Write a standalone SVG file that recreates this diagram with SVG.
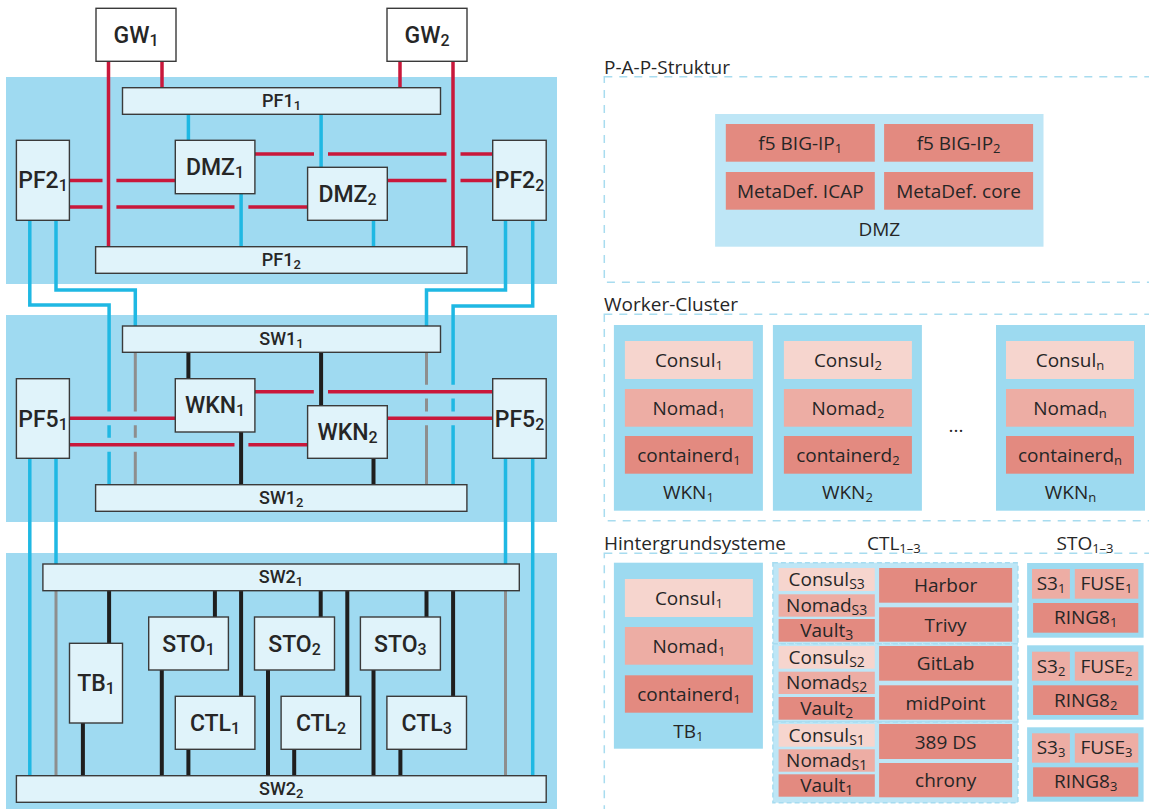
<svg xmlns="http://www.w3.org/2000/svg" width="1149" height="809" viewBox="0 0 1149 809">
<style>
.bg{fill:#fff}
.band{fill:#9fdaf1}
.node{fill:#e0f3fa;stroke:#3a3a3a;stroke-width:1.4}
.gw{fill:#fff;stroke:#3a3a3a;stroke-width:1.4}
.red{stroke:#c9183b;stroke-width:3.5;fill:none}
.cy{stroke:#1fb8e3;stroke-width:3.5;fill:none}
.gr{stroke:#8e8e8e;stroke-width:3;fill:none}
.bk{stroke:#1e1e1e;stroke-width:4;fill:none}
text{font-family:"Open Sans","DejaVu Sans",sans-serif;fill:#262626}
.tl{font-family:Roboto,"Open Sans",sans-serif;font-weight:500;font-size:23px;text-anchor:middle}
.tb{font-family:Roboto,"Open Sans",sans-serif;font-weight:500;font-size:18px;text-anchor:middle}
.tr{font-size:19px;text-anchor:middle}
.ts{font-size:19px;text-anchor:middle}
.tt{font-size:19px;text-anchor:start}
.c1{fill:#f6d5ce}.c2{fill:#edada4}.c3{fill:#e38a80}
.box{fill:#9ddaf0}
.lbox{fill:#bee6f6}
.ctl{fill:#bee6f6;stroke:#a6dcf0;stroke-width:1.5;stroke-dasharray:5 3}
.dash{fill:none;stroke:#a8dcef;stroke-width:1.5;stroke-dasharray:8 7}
</style>
<rect class="bg" x="0" y="0" width="1149" height="809"/>
<g id="bands">
<rect class="band" x="6" y="77" width="551" height="207"/>
<rect class="band" x="6" y="315" width="551" height="207"/>
<rect class="band" x="6" y="553" width="551" height="256"/>
</g>
<g id="connectors">
<path class="red" d="M108.5 61 V247 M162 61 V88 M400 61 V88 M453 61 V247"/>
<path class="red" d="M255 154 H314 M328 154 H446.5 M460.5 154 H492.7"/>
<path class="red" d="M69.5 180.5 H102.5 M116.4 180.5 H175.3 M387.3 180.5 H446.5 M460.5 180.5 H492.7"/>
<path class="red" d="M69.5 207 H102.5 M116.4 207 H234.5 M248.4 207 H307.6"/>
<path class="cy" d="M188.4 114.3 V140.3 M321.1 114.3 V167.3 M241.1 193.7 V246.7 M373.5 220.3 V246.7"/>
<path class="cy" d="M29.8 220 V305 H109.1 V411.5 M109.1 425.3 V437.7 M109.1 451.7 V484.7"/>
<path class="cy" d="M56 220 V290 H135.3 V326"/>
<path class="cy" d="M505.5 220 V290 H426.5 V326"/>
<path class="cy" d="M532.7 220 V306 H453.1 V384.8 M453.1 398.5 V411.5 M453.1 425.3 V484.7"/>
<path class="gr" d="M135.3 352.3 V411.5 M135.3 425.3 V437.7 M135.3 451.7 V484.7"/>
<path class="gr" d="M426.5 352.3 V384.8 M426.5 398.5 V411.5 M426.5 425.3 V484.7"/>
<path class="red" d="M254.9 391.7 H313.8 M328 391.7 H492.7 M69.5 418.3 H175.3 M387.3 418.3 H492.7 M69.5 444.7 H234.5 M248.4 444.7 H307.6"/>
<path class="bk" d="M188.4 352.3 V378.7 M321.1 352.3 V405.7 M241.1 432 V484.7 M373.5 458.3 V484.7"/>
<path class="cy" d="M29.8 458.3 V775.7 M56 458.3 V564 M505.5 458.3 V564 M532.7 458.3 V775.7"/>
<path class="gr" d="M56 590.7 V775.7 M505.5 590.7 V775.7"/>
<path class="bk" d="M109.1 590.7 V643.3 M82.9 723 V775.7"/>
<path class="bk" d="M214.9 590.7 V617 M241.1 590.7 V696.3 M161.8 670 V775.7 M188.4 749.3 V775.7"/>
<path class="bk" d="M320.7 590.7 V617 M347.3 590.7 V696.3 M268 670 V775.7 M294.2 749.3 V775.7"/>
<path class="bk" d="M426.5 590.7 V617 M453.1 590.7 V696.3 M373.5 670 V775.7 M400.4 749.3 V775.7"/>
</g>
<g id="gw1"><rect class="gw" x="96" y="8.3" width="80" height="53"/><text class="tl" x="136" y="43">GW<tspan font-size="16" dy="3">1</tspan></text></g>
<g id="gw2"><rect class="gw" x="387" y="8.3" width="80" height="53"/><text class="tl" x="427" y="43">GW<tspan font-size="16" dy="3">2</tspan></text></g>
<g id="pf1-1"><rect class="node" x="122.5" y="87.7" width="318" height="26.6"/><text class="tb" x="281.5" y="107">PF1<tspan font-size="13" dy="3">1</tspan></text></g>
<g id="pf1-2"><rect class="node" x="95.6" y="246.7" width="371.3" height="26.6"/><text class="tb" x="281.3" y="266">PF1<tspan font-size="13" dy="3">2</tspan></text></g>
<g id="pf2-1"><rect class="node" x="16.4" y="140.3" width="53" height="80"/><text class="tl" x="43" y="188.3">PF2<tspan font-size="16" dy="3">1</tspan></text></g>
<g id="pf2-2"><rect class="node" x="492.7" y="140.3" width="53.5" height="80"/><text class="tl" x="519.5" y="188.3">PF2<tspan font-size="16" dy="3">2</tspan></text></g>
<g id="dmz1"><rect class="node" x="175.3" y="140.3" width="79.6" height="53.4"/><text class="tl" x="215" y="175">DMZ<tspan font-size="16" dy="3">1</tspan></text></g>
<g id="dmz2"><rect class="node" x="307.6" y="167.3" width="79.7" height="53"/><text class="tl" x="347.5" y="202">DMZ<tspan font-size="16" dy="3">2</tspan></text></g>
<g id="sw1-1"><rect class="node" x="122.5" y="326" width="318" height="26.3"/><text class="tb" x="281.5" y="345">SW1<tspan font-size="13" dy="3">1</tspan></text></g>
<g id="sw1-2"><rect class="node" x="95.6" y="484.7" width="371.3" height="26.6"/><text class="tb" x="281.3" y="504">SW1<tspan font-size="13" dy="3">2</tspan></text></g>
<g id="pf5-1"><rect class="node" x="16.4" y="378.7" width="53" height="79.6"/><text class="tl" x="43" y="426.5">PF5<tspan font-size="16" dy="3">1</tspan></text></g>
<g id="pf5-2"><rect class="node" x="492.7" y="378.7" width="53.5" height="79.6"/><text class="tl" x="519.5" y="426.5">PF5<tspan font-size="16" dy="3">2</tspan></text></g>
<g id="wkn1"><rect class="node" x="175.3" y="378.7" width="79.6" height="53.3"/><text class="tl" x="215" y="413.3">WKN<tspan font-size="16" dy="3">1</tspan></text></g>
<g id="wkn2"><rect class="node" x="307.6" y="405.7" width="79.7" height="52.6"/><text class="tl" x="347.5" y="440">WKN<tspan font-size="16" dy="3">2</tspan></text></g>
<g id="sw2-1"><rect class="node" x="42.9" y="564" width="476.4" height="26.7"/><text class="tb" x="281" y="583.3">SW2<tspan font-size="13" dy="3">1</tspan></text></g>
<g id="sw2-2"><rect class="node" x="16.4" y="775.7" width="529.8" height="26.6"/><text class="tb" x="281.3" y="795">SW2<tspan font-size="13" dy="3">2</tspan></text></g>
<g id="tb1"><rect class="node" x="69.5" y="643.3" width="53" height="79.7"/><text class="tl" x="96" y="691">TB<tspan font-size="16" dy="3">1</tspan></text></g>
<g id="sto1"><rect class="node" x="148.7" y="617" width="79.7" height="53"/><text class="tl" x="188.5" y="651.5">STO<tspan font-size="16" dy="3">1</tspan></text></g>
<g id="sto2"><rect class="node" x="254.5" y="617" width="80" height="53"/><text class="tl" x="294.5" y="651.5">STO<tspan font-size="16" dy="3">2</tspan></text></g>
<g id="sto3"><rect class="node" x="360.4" y="617" width="80" height="53"/><text class="tl" x="400.4" y="651.5">STO<tspan font-size="16" dy="3">3</tspan></text></g>
<g id="ctl1"><rect class="node" x="175.3" y="696.3" width="79.6" height="53"/><text class="tl" x="215" y="730.8">CTL<tspan font-size="16" dy="3">1</tspan></text></g>
<g id="ctl2"><rect class="node" x="281.1" y="696.3" width="79.6" height="53"/><text class="tl" x="321" y="730.8">CTL<tspan font-size="16" dy="3">2</tspan></text></g>
<g id="ctl3"><rect class="node" x="386.9" y="696.3" width="79.6" height="53"/><text class="tl" x="426.7" y="730.8">CTL<tspan font-size="16" dy="3">3</tspan></text></g>

<g id="pap">
<rect class="dash" x="604.3" y="76.7" width="570" height="205.6"/>
<text class="tt" x="604" y="74">P-A-P-Struktur</text>
<rect class="lbox" x="715.1" y="114" width="328.4" height="132.7"/>
<rect class="c3" x="725.8" y="124" width="149" height="37.7"/>
<rect class="c3" x="884.1" y="124" width="149" height="37.7"/>
<rect class="c3" x="725.8" y="172" width="149" height="37.7"/>
<rect class="c3" x="884.1" y="172" width="149" height="37.7"/>
<text class="tr" x="800.3" y="150">f5 BIG-IP<tspan font-size="13" dy="3">1</tspan></text>
<text class="tr" x="958.6" y="150">f5 BIG-IP<tspan font-size="13" dy="3">2</tspan></text>
<text class="tr" x="800.3" y="198">MetaDef. ICAP</text>
<text class="tr" x="958.6" y="198">MetaDef. core</text>
<text class="tr" x="879.3" y="236">DMZ</text>
</g>

<g id="worker-cluster">
<rect class="dash" x="604.3" y="314.3" width="570" height="206.4"/>
<text class="tt" x="604" y="311">Worker-Cluster</text>
<text class="tr" x="956" y="432">...</text>
</g>
<g id="wkn1-detail">
<rect class="box" x="613.9" y="325" width="149" height="185.7"/>
<rect class="c1" x="624.9" y="341" width="128" height="38"/>
<rect class="c2" x="624.9" y="389" width="128" height="37.7"/>
<rect class="c3" x="624.9" y="436" width="128" height="37.7"/>
<text class="tr" x="688.9" y="367">Consul<tspan font-size="13" dy="3">1</tspan></text>
<text class="tr" x="688.9" y="415">Nomad<tspan font-size="13" dy="3">1</tspan></text>
<text class="tr" x="688.9" y="462">containerd<tspan font-size="13" dy="3">1</tspan></text>
<text class="tr" x="688.4" y="499">WKN<tspan font-size="13" dy="3">1</tspan></text>
</g>
<g id="wkn2-detail">
<rect class="box" x="772.9" y="325" width="149" height="185.7"/>
<rect class="c1" x="783.9" y="341" width="128" height="38"/>
<rect class="c2" x="783.9" y="389" width="128" height="37.7"/>
<rect class="c3" x="783.9" y="436" width="128" height="37.7"/>
<text class="tr" x="847.9" y="367">Consul<tspan font-size="13" dy="3">2</tspan></text>
<text class="tr" x="847.9" y="415">Nomad<tspan font-size="13" dy="3">2</tspan></text>
<text class="tr" x="847.9" y="462">containerd<tspan font-size="13" dy="3">2</tspan></text>
<text class="tr" x="847.4" y="499">WKN<tspan font-size="13" dy="3">2</tspan></text>
</g>
<g id="wknn-detail">
<rect class="box" x="996" y="325" width="149" height="185.7"/>
<rect class="c1" x="1006" y="341" width="128" height="38"/>
<rect class="c2" x="1006" y="389" width="128" height="37.7"/>
<rect class="c3" x="1006" y="436" width="128" height="37.7"/>
<text class="tr" x="1070" y="367">Consul<tspan font-size="13" dy="3">n</tspan></text>
<text class="tr" x="1070" y="415">Nomad<tspan font-size="13" dy="3">n</tspan></text>
<text class="tr" x="1070" y="462">containerd<tspan font-size="13" dy="3">n</tspan></text>
<text class="tr" x="1070.5" y="499">WKN<tspan font-size="13" dy="3">n</tspan></text>
</g>

<g id="hintergrund">
<rect class="dash" x="604.3" y="553.3" width="570" height="280"/>
<text class="tt" x="604" y="550">Hintergrundsysteme</text>
<text class="tt" x="867" y="550">CTL<tspan font-size="13" dy="3">1–3</tspan></text>
<text class="tt" x="1056.5" y="550">STO<tspan font-size="13" dy="3">1–3</tspan></text>
</g>
<g id="tb1-detail">
<rect class="box" x="613.9" y="562.7" width="149" height="186"/>
<rect class="c1" x="624.9" y="579" width="128" height="38"/>
<rect class="c2" x="624.9" y="627" width="128" height="37.7"/>
<rect class="c3" x="624.9" y="675.3" width="128" height="37.4"/>
<text class="tr" x="688.9" y="605">Consul<tspan font-size="13" dy="3">1</tspan></text>
<text class="tr" x="688.9" y="653">Nomad<tspan font-size="13" dy="3">1</tspan></text>
<text class="tr" x="688.9" y="701">containerd<tspan font-size="13" dy="3">1</tspan></text>
<text class="tr" x="688.4" y="738">TB<tspan font-size="13" dy="3">1</tspan></text>
</g>
<g id="ctl-detail">
<rect class="ctl" x="772.9" y="562.7" width="245" height="81"/>
<rect class="ctl" x="772.9" y="643.7" width="245" height="78.3"/>
<rect class="ctl" x="772.9" y="722" width="245" height="80.7"/>
<rect class="c1" x="778.6" y="568" width="96.2" height="23"/>
<rect class="c2" x="778.6" y="594.3" width="96.2" height="22.4"/>
<rect class="c3" x="778.6" y="619" width="96.2" height="22.7"/>
<rect class="c3" x="879.1" y="568" width="133" height="34.7"/>
<rect class="c3" x="879.1" y="607.3" width="133" height="34.4"/>
<rect class="c1" x="778.6" y="646" width="96.2" height="22.7"/>
<rect class="c2" x="778.6" y="671.7" width="96.2" height="22.3"/>
<rect class="c3" x="778.6" y="697" width="96.2" height="22.7"/>
<rect class="c3" x="879.1" y="646" width="133" height="34.7"/>
<rect class="c3" x="879.1" y="685.3" width="133" height="34.4"/>
<rect class="c1" x="778.6" y="724" width="96.2" height="22.7"/>
<rect class="c2" x="778.6" y="749.3" width="96.2" height="22.4"/>
<rect class="c3" x="778.6" y="774.3" width="96.2" height="22.4"/>
<rect class="c3" x="879.1" y="724" width="133" height="35"/>
<rect class="c3" x="879.1" y="763" width="133" height="34.3"/>
<text class="ts" x="826.7" y="585.5">Consul<tspan font-size="14" dy="3">S3</tspan></text>
<text class="ts" x="826.7" y="611.5">Nomad<tspan font-size="14" dy="3">S3</tspan></text>
<text class="ts" x="826.7" y="636.5">Vault<tspan font-size="14" dy="3">3</tspan></text>
<text class="tr" x="945.6" y="592.3">Harbor</text>
<text class="tr" x="945.6" y="631.5">Trivy</text>
<text class="ts" x="826.7" y="663.5">Consul<tspan font-size="14" dy="3">S2</tspan></text>
<text class="ts" x="826.7" y="689">Nomad<tspan font-size="14" dy="3">S2</tspan></text>
<text class="ts" x="826.7" y="714.5">Vault<tspan font-size="14" dy="3">2</tspan></text>
<text class="tr" x="945.6" y="670.3">GitLab</text>
<text class="tr" x="945.6" y="709.5">midPoint</text>
<text class="ts" x="826.7" y="741.5">Consul<tspan font-size="14" dy="3">S1</tspan></text>
<text class="ts" x="826.7" y="766.5">Nomad<tspan font-size="14" dy="3">S1</tspan></text>
<text class="ts" x="826.7" y="791.5">Vault<tspan font-size="14" dy="3">1</tspan></text>
<text class="tr" x="945.6" y="748.5">389 DS</text>
<text class="tr" x="945.6" y="787">chrony</text>
</g>
<g id="sto1-detail">
<rect class="box" x="1027.1" y="563" width="116.5" height="74.7"/>
<rect class="c2" x="1032" y="569" width="37.9" height="29.7"/>
<rect class="c2" x="1074.8" y="569" width="63.5" height="29.7"/>
<rect class="c3" x="1033.1" y="603" width="105.2" height="29.7"/>
<text class="tr" x="1051" y="590">S3<tspan font-size="13" dy="3">1</tspan></text>
<text class="tr" x="1106.5" y="590">FUSE<tspan font-size="13" dy="3">1</tspan></text>
<text class="tr" x="1085.7" y="624">RING8<tspan font-size="13" dy="3">1</tspan></text>
</g>
<g id="sto2-detail">
<rect class="box" x="1027.1" y="645.3" width="116.5" height="74.4"/>
<rect class="c2" x="1032" y="651.7" width="37.9" height="29"/>
<rect class="c2" x="1074.8" y="651.7" width="63.5" height="29"/>
<rect class="c3" x="1033.1" y="685.3" width="105.2" height="29.7"/>
<text class="tr" x="1051" y="672.5">S3<tspan font-size="13" dy="3">2</tspan></text>
<text class="tr" x="1106.5" y="672.5">FUSE<tspan font-size="13" dy="3">2</tspan></text>
<text class="tr" x="1085.7" y="706.5">RING8<tspan font-size="13" dy="3">2</tspan></text>
</g>
<g id="sto3-detail">
<rect class="box" x="1027.1" y="727.3" width="116.5" height="74.4"/>
<rect class="c2" x="1032" y="733.3" width="37.9" height="29.4"/>
<rect class="c2" x="1074.8" y="733.3" width="63.5" height="29.4"/>
<rect class="c3" x="1033.1" y="767.3" width="105.2" height="29.4"/>
<text class="tr" x="1051" y="754">S3<tspan font-size="13" dy="3">3</tspan></text>
<text class="tr" x="1106.5" y="754">FUSE<tspan font-size="13" dy="3">3</tspan></text>
<text class="tr" x="1085.7" y="788">RING8<tspan font-size="13" dy="3">3</tspan></text>
</g>
</svg>
